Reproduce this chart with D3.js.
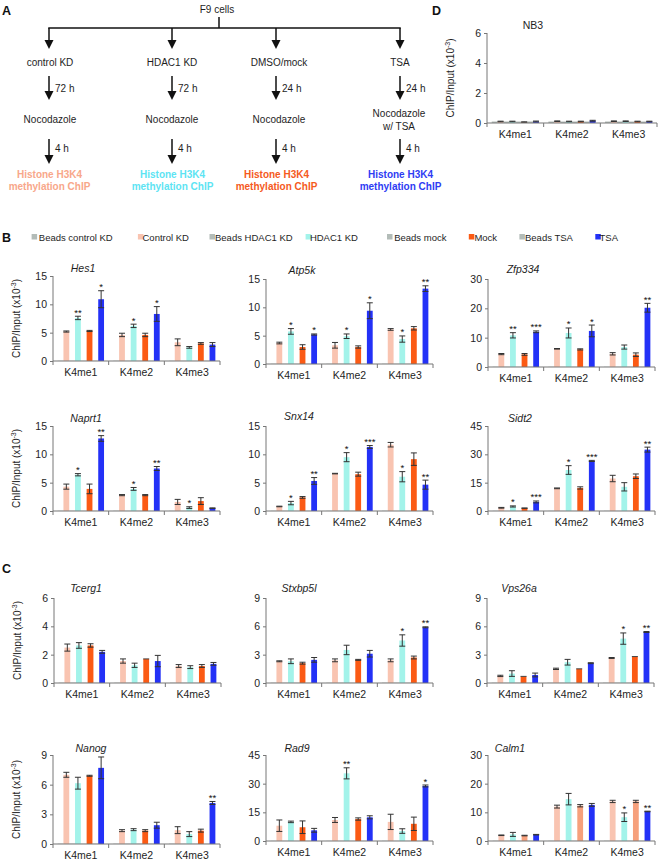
<!DOCTYPE html>
<html><head><meta charset="utf-8">
<script src="https://cdn.jsdelivr.net/npm/d3@7"></script>
<style>body{margin:0;background:#fff}svg{font-family:"Liberation Sans",Arial,sans-serif;display:block}</style>
</head><body><svg id="c" width="661" height="862"></svg>
<script>
// ---------- DATA ----------
const groups = ["K4me1", "K4me2", "K4me3"];
const seriesNames = ["Beads control KD", "Control KD", "Beads HDAC1 KD", "HDAC1 KD", "Beads mock", "Mock", "Beads TSA", "TSA"];
const geneNames = ["Hes1", "Atp5k", "Zfp334", "Naprt1", "Snx14", "Sidt2", "Tcerg1", "Stxbp5l", "Vps26a", "Nanog", "Rad9", "Calm1", "NB3"];
const yTicks = {
  Hes1: [0, 5, 10, 15], Atp5k: [0, 5, 10, 15], Zfp334: [0, 10, 20, 30],
  Naprt1: [0, 5, 10, 15], Snx14: [0, 5, 10, 15], Sidt2: [0, 15, 30, 45],
  Tcerg1: [0, 2, 4, 6], Stxbp5l: [0, 3, 6, 9], Vps26a: [0, 3, 6, 9],
  Nanog: [0, 3, 6, 9], Rad9: [0, 15, 30, 45], Calm1: [0, 10, 20, 30],
  NB3: [0, 2, 4, 6]
};
// rows = groups (K4me1, K4me2, K4me3); columns = Control KD, HDAC1 KD, Mock, TSA
const hes1Mean = [[5.2, 7.6, 5.3, 10.9], [4.6, 6.2, 4.6, 8.3], [3.3, 2.4, 3.1, 2.9]];
const hes1Err = [[0.1, 0.3, 0.1, 1.5], [0.3, 0.3, 0.3, 1.3], [0.6, 0.15, 0.15, 0.35]];
const hes1Sig = [["", "**", "", "*"], ["", "*", "", "*"], ["", "", "", ""]];
const hes1Beads = [0.04, 0.04, 0.04];

const atp5kMean = [[3.7, 5.75, 3.0, 5.2], [3.3, 4.9, 3.0, 9.4], [6.1, 4.4, 6.3, 13.3]];
const atp5kErr = [[0.15, 0.5, 0.4, 0.1], [0.5, 0.4, 0.2, 1.4], [0.15, 0.55, 0.3, 0.5]];
const atp5kSig = [["", "*", "", "*"], ["", "*", "", "*"], ["", "*", "", "**"]];
const atp5kBeads = [0.04, 0.04, 0.04];

const zfp334Mean = [[4.4, 10.8, 4.3, 12.0], [6.2, 11.6, 6.0, 12.3], [4.5, 6.8, 4.2, 20.2]];
const zfp334Err = [[0.2, 0.9, 0.3, 0.3], [0.1, 1.7, 0.2, 2.0], [0.4, 0.7, 0.6, 1.5]];
const zfp334Sig = [["", "**", "", "***"], ["", "*", "", "*"], ["", "", "", "**"]];
const zfp334Beads = [0.08, 0.08, 0.08];

const naprt1Mean = [[4.3, 6.4, 3.9, 12.8], [2.8, 3.9, 2.8, 7.5], [1.6, 0.6, 1.75, 0.5]];
const naprt1Err = [[0.45, 0.2, 0.85, 0.5], [0.1, 0.25, 0.1, 0.35], [0.45, 0.15, 0.6, 0.05]];
const naprt1Sig = [["", "*", "", "**"], ["", "*", "", "**"], ["", "*", "", ""]];
const naprt1Beads = [0.04, 0.04, 0.04];

const snx14Mean = [[0.8, 1.4, 2.4, 5.3], [6.6, 9.5, 6.5, 11.3], [11.7, 6.05, 9.15, 4.65]];
const snx14Err = [[0.05, 0.3, 0.15, 0.6], [0.05, 0.8, 0.35, 0.25], [0.4, 0.9, 1.1, 0.8]];
const snx14Sig = [["", "*", "", "**"], ["", "*", "", "***"], ["", "*", "", "**"]];
const snx14Beads = [0.04, 0.04, 0.04];

const sidt2Mean = [[1.7, 2.4, 1.5, 4.8], [12.0, 21.7, 12.2, 26.5], [17.2, 12.8, 18.4, 32.5]];
const sidt2Err = [[0.2, 0.3, 0.1, 0.5], [0.2, 2.3, 0.6, 0.3], [1.7, 2.2, 1.2, 1.3]];
const sidt2Sig = [["", "*", "", "***"], ["", "*", "", "***"], ["", "", "", "**"]];
const sidt2Beads = [0.1, 0.1, 0.1];

const tcerg1Mean = [[2.5, 2.65, 2.65, 2.2], [1.55, 1.25, 1.7, 1.55], [1.2, 1.12, 1.2, 1.35]];
const tcerg1Err = [[0.25, 0.2, 0.12, 0.1], [0.15, 0.15, 0.0, 0.4], [0.1, 0.1, 0.1, 0.1]];
const tcerg1Sig = [["", "", "", ""], ["", "", "", ""], ["", "", "", ""]];
const tcerg1Beads = [0.02, 0.02, 0.02];

const stxbp5lMean = [[2.3, 2.3, 2.1, 2.45], [2.4, 3.5, 2.45, 3.1], [2.4, 4.5, 2.7, 5.9]];
const stxbp5lErr = [[0.05, 0.25, 0.1, 0.25], [0.15, 0.5, 0.05, 0.35], [0.15, 0.6, 0.15, 0.05]];
const stxbp5lSig = [["", "", "", ""], ["", "", "", ""], ["", "*", "", "**"]];
const stxbp5lBeads = [0.03, 0.03, 0.03];

const vps26aMean = [[0.75, 1.0, 0.7, 0.85], [1.5, 2.2, 1.5, 2.1], [2.65, 4.7, 2.8, 5.4]];
const vps26aErr = [[0.07, 0.3, 0.0, 0.2], [0.07, 0.3, 0.0, 0.05], [0.05, 0.6, 0.0, 0.05]];
const vps26aSig = [["", "", "", ""], ["", "", "", ""], ["", "*", "", "**"]];
const vps26aBeads = [0.03, 0.03, 0.03];

const nanogMean = [[7.0, 6.15, 6.9, 7.7], [1.35, 1.45, 1.35, 1.9], [1.4, 1.0, 1.35, 4.15]];
const nanogErr = [[0.25, 0.6, 0.05, 1.1], [0.1, 0.1, 0.1, 0.3], [0.35, 0.25, 0.15, 0.15]];
const nanogSig = [["", "", "", ""], ["", "", "", ""], ["", "", "", "**"]];
const nanogBeads = [0.03, 0.03, 0.03];

const rad9Mean = [[8.0, 10.0, 7.2, 5.6], [11.0, 35.4, 11.5, 12.4], [10.0, 5.2, 9.0, 28.8]];
const rad9Err = [[3.0, 0.4, 3.3, 1.0], [1.3, 2.9, 0.6, 0.8], [4.0, 1.2, 3.5, 0.5]];
const rad9Sig = [["", "", "", ""], ["", "**", "", ""], ["", "", "", "*"]];
const rad9Beads = [0.1, 0.1, 0.1];

const calm1Mean = [[2.0, 2.3, 1.9, 2.2], [12.0, 14.6, 12.3, 12.6], [13.8, 8.3, 13.8, 10.3]];
const calm1Err = [[0.1, 0.7, 0.1, 0.1], [0.5, 2.0, 0.4, 0.5], [0.4, 1.5, 0.4, 0.1]];
const calm1Sig = [["", "", "", ""], ["", "", "", ""], ["", "*", "", "**"]];
const calm1Beads = [0.08, 0.08, 0.08];

const nb3Mean = [[0.1, 0.1, 0.06, 0.1], [0.12, 0.1, 0.1, 0.15], [0.12, 0.12, 0.1, 0.1]];
const nb3Err = [[0.02, 0.02, 0.02, 0.03], [0.02, 0.02, 0.02, 0.03], [0.02, 0.02, 0.02, 0.02]];
const nb3Sig = [["", "", "", ""], ["", "", "", ""], ["", "", "", ""]];
const nb3Beads = [0.1, 0.1, 0.1];

const flowConditions = ["control KD", "HDAC1 KD", "DMSO/mock", "TSA"];
const flowTimes = ["72 h", "72 h", "24 h", "24 h"];
const flowDrug = [["Nocodazole"], ["Nocodazole"], ["Nocodazole"], ["Nocodazole", "w/ TSA"]];
const flowResult = ["Histone H3K4", "methylation ChIP"];

// ---------- STYLE / LAYOUT ----------
const seriesColors = ["#b3bcb8", "#f9c4b1", "#b3bcb8", "#a3f3ea", "#b3bcb8", "#fb5a14", "#b3bcb8", "#2331f7"];
const flowColors = ["#f8a78a", "#5de4f3", "#f55a1d", "#2e3cf3"];
const mockOverride = { Calm1: "#f6a07c" };
const geneData = {
  Hes1: [hes1Mean, hes1Err, hes1Sig, hes1Beads], Atp5k: [atp5kMean, atp5kErr, atp5kSig, atp5kBeads],
  Zfp334: [zfp334Mean, zfp334Err, zfp334Sig, zfp334Beads], Naprt1: [naprt1Mean, naprt1Err, naprt1Sig, naprt1Beads],
  Snx14: [snx14Mean, snx14Err, snx14Sig, snx14Beads], Sidt2: [sidt2Mean, sidt2Err, sidt2Sig, sidt2Beads],
  Tcerg1: [tcerg1Mean, tcerg1Err, tcerg1Sig, tcerg1Beads], Stxbp5l: [stxbp5lMean, stxbp5lErr, stxbp5lSig, stxbp5lBeads],
  Vps26a: [vps26aMean, vps26aErr, vps26aSig, vps26aBeads], Nanog: [nanogMean, nanogErr, nanogSig, nanogBeads],
  Rad9: [rad9Mean, rad9Err, rad9Sig, rad9Beads], Calm1: [calm1Mean, calm1Err, calm1Sig, calm1Beads],
  NB3: [nb3Mean, nb3Err, nb3Sig, nb3Beads]
};
const layout = [
  { gene: "Hes1", x: 53, top: 276, zero: 361, tx: 83, ty: 268, ylab: true },
  { gene: "Atp5k", x: 266, top: 279, zero: 364, tx: 302, ty: 270 },
  { gene: "Zfp334", x: 488, top: 279, zero: 367, tx: 523, ty: 269 },
  { gene: "Naprt1", x: 53, top: 426, zero: 511, tx: 86, ty: 418, ylab: true },
  { gene: "Snx14", x: 266, top: 426, zero: 511, tx: 299, ty: 416 },
  { gene: "Sidt2", x: 488, top: 426, zero: 511, tx: 520, ty: 418 },
  { gene: "Tcerg1", x: 54, top: 598, zero: 683, tx: 86, ty: 588, ylab: true },
  { gene: "Stxbp5l", x: 266, top: 598, zero: 683, tx: 299, ty: 588 },
  { gene: "Vps26a", x: 487, top: 598, zero: 683, tx: 519, ty: 588 },
  { gene: "Nanog", x: 53, top: 755, zero: 844, tx: 91, ty: 748, ylab: true },
  { gene: "Rad9", x: 266, top: 755, zero: 841, tx: 297, ty: 748 },
  { gene: "Calm1", x: 488, top: 755, zero: 841, tx: 510, ty: 748 },
  { gene: "NB3", x: 487, top: 33, zero: 123, tx: 533, ty: 25, ylab: true, plain: true, w: 170 }
];

const svg = d3.select("#c");
const ink = "#1e1e1e";

// ---------- Panel letters ----------
[["A", 2, 15], ["D", 432, 15], ["B", 2, 242], ["C", 2, 573]].forEach(([t, x, y]) =>
  svg.append("text").attr("x", x).attr("y", y).attr("font-size", 12.5).attr("font-weight", "bold").attr("fill", "#111").text(t));

// ---------- Flowchart (A) ----------
const flowX = d3.scaleOrdinal().domain(flowConditions).range([49, 172, 276, 400]);
const flowLabelX = d3.scaleOrdinal().domain(flowConditions).range([50, 172, 279, 400]);
const fc = svg.append("g").attr("font-size", 10).attr("fill", ink);
function arrow(x, y1, y2) {
  fc.append("line").attr("x1", x).attr("x2", x).attr("y1", y1).attr("y2", y2 - 7).attr("stroke", "#111").attr("stroke-width", 1.5);
  fc.append("path").attr("d", `M${x - 4.5},${y2 - 9}L${x + 4.5},${y2 - 9}L${x},${y2}Z`).attr("fill", "#111");
}
fc.append("text").attr("x", 217).attr("y", 13).attr("text-anchor", "middle").text("F9 cells");
fc.append("line").attr("x1", 219).attr("x2", 219).attr("y1", 17).attr("y2", 28).attr("stroke", "#111").attr("stroke-width", 1.5);
fc.append("line").attr("x1", flowX(flowConditions[0]) - 0.75).attr("x2", flowX(flowConditions[3]) + 0.75).attr("y1", 28).attr("y2", 28).attr("stroke", "#111").attr("stroke-width", 1.5);
flowConditions.forEach((c, i) => {
  const x = flowX(c), lx = flowLabelX(c);
  arrow(x, 28, 49);
  fc.append("text").attr("x", lx).attr("y", 65.5).attr("text-anchor", "middle").text(c);
  arrow(x, 76, 100);
  fc.append("text").attr("x", x + 6).attr("y", 91.5).text(flowTimes[i]);
  const d = flowDrug[i];
  d.forEach((t, j) => fc.append("text").attr("x", d.length > 1 ? x - 1 : lx).attr("y", d.length > 1 ? 116.5 + j * 13 : 122.5).attr("text-anchor", "middle").text(t));
  arrow(x, 139, 164);
  fc.append("text").attr("x", x + 6).attr("y", 151.5).text("4 h");
  flowResult.forEach((t, j) => fc.append("text").attr("x", x + 0.5).attr("y", 177.5 + j * 12).attr("text-anchor", "middle")
    .attr("font-weight", "bold").attr("fill", flowColors[i]).text(t));
});

// ---------- Legend (B) ----------
const legSq = [31.6, 137.9, 209.5, 305.6, 387, 468.8, 519.4, 595.3];
const legTx = [38.8, 142.5, 215, 309.9, 394.2, 474.4, 525, 599.5];
const leg = svg.append("g").attr("font-size", 9.5).attr("fill", ink);
seriesNames.forEach((s, i) => {
  leg.append("rect").attr("x", legSq[i]).attr("y", 234).attr("width", 5.5).attr("height", 5.5).attr("fill", seriesColors[i]);
  leg.append("text").attr("x", legTx[i]).attr("y", 240.5).text(s);
});

// ---------- Bar panels ----------
function panel(L) {
  const [mean, err, sig, beads] = geneData[L.gene];
  const ticks = yTicks[L.gene];
  const w = L.w || 167;
  const g = svg.append("g").attr("transform", `translate(${L.x},0)`);
  const y = d3.scaleLinear().domain([0, d3.max(ticks)]).range([L.zero, L.top]);
  const x0 = d3.scaleBand().domain(groups).range([0, w]).padding(0);
  const x1 = d3.scaleBand().domain(seriesNames).range([0, x0.bandwidth()]).paddingInner(0).paddingOuter(0.8);
  const rows = [];
  groups.forEach((grp, gi) => seriesNames.forEach((s, si) => {
    const vis = si % 2 === 1, k = (si - 1) / 2;
    let color = seriesColors[si];
    if (si === 5 && mockOverride[L.gene]) color = mockOverride[L.gene];
    rows.push({ grp, s, v: vis ? mean[gi][k] : beads[gi], e: vis ? err[gi][k] : 0, sig: vis ? sig[gi][k] : "", color });
  }));
  g.selectAll("rect.bar").data(rows).join("rect").attr("class", "bar")
    .attr("x", d => x0(d.grp) + x1(d.s)).attr("width", x1.bandwidth())
    .attr("y", d => y(d.v)).attr("height", d => y(0) - y(d.v)).attr("fill", d => d.color);
  // error bars
  const eb = rows.filter(d => d.e > 0);
  const cx = d => x0(d.grp) + x1(d.s) + x1.bandwidth() / 2;
  g.selectAll("path.err").data(eb).join("path").attr("class", "err")
    .attr("d", d => `M${cx(d)},${y(d.v - d.e)}V${y(d.v + d.e)}M${cx(d) - 3},${y(d.v + d.e)}H${cx(d) + 3}M${cx(d) - 3},${y(d.v - d.e)}H${cx(d) + 3}`)
    .attr("stroke", "#333").attr("stroke-width", 1).attr("fill", "none");
  g.selectAll("path.cap0").data(rows.filter(d => d.e === 0 && d.s.indexOf("Beads") < 0)).join("path").attr("class", "cap0")
    .attr("d", d => `M${cx(d) - 3},${y(d.v)}H${cx(d) + 3}`).attr("stroke", "#444").attr("stroke-width", 1);
  // significance
  g.selectAll("text.sig").data(rows.filter(d => d.sig)).join("text").attr("class", "sig")
    .attr("x", d => cx(d)).attr("y", d => y(d.v + d.e) - 0.5).attr("text-anchor", "middle")
    .attr("font-size", 9.5).attr("fill", "#111").text(d => d.sig);
  // y axis
  const ya = g.append("g").call(d3.axisLeft(y).tickValues(ticks).tickSize(3).tickPadding(3).tickFormat(d3.format("d")));
  ya.select(".domain").attr("stroke", "#777").attr("d", `M0,${L.top}V${L.zero}`);
  ya.selectAll(".tick line").attr("stroke", "#777");
  ya.selectAll(".tick text").attr("font-size", 10.5).attr("fill", ink).attr("font-family", "Liberation Sans, Arial, sans-serif");
  // x axis
  g.append("line").attr("x1", 0).attr("x2", w).attr("y1", L.zero).attr("y2", L.zero).attr("stroke", "#777").attr("stroke-width", 1.2);
  const bounds = [0].concat(groups.map(d => x0(d) + x0.bandwidth()));
  g.selectAll("line.sep").data(bounds).join("line").attr("class", "sep")
    .attr("x1", d => d).attr("x2", d => d).attr("y1", L.zero).attr("y2", L.zero + 4).attr("stroke", "#777");
  g.selectAll("text.xl").data(groups).join("text").attr("class", "xl")
    .attr("x", d => x0(d) + x0.bandwidth() / 2).attr("y", L.zero + 15).attr("text-anchor", "middle")
    .attr("font-size", 10.5).attr("fill", ink).text(d => d);
  // title
  svg.append("text").attr("x", L.tx).attr("y", L.ty + 3.5).attr("text-anchor", "middle").attr("font-size", 10.5)
    .attr("font-style", L.plain ? "normal" : "italic").attr("fill", ink).text(L.gene);
  if (L.ylab) {
    const t = svg.append("text").attr("transform", `translate(${L.x - 33},${(L.top + L.zero) / 2}) rotate(-90)`)
      .attr("text-anchor", "middle").attr("font-size", 10).attr("fill", ink);
    t.append("tspan").text("ChIP/Input (x10");
    t.append("tspan").attr("font-size", 7).attr("dy", -4).text("-3");
    t.append("tspan").attr("dy", 4).text(")");
  }
}
layout.forEach(panel);
</script></body></html>
